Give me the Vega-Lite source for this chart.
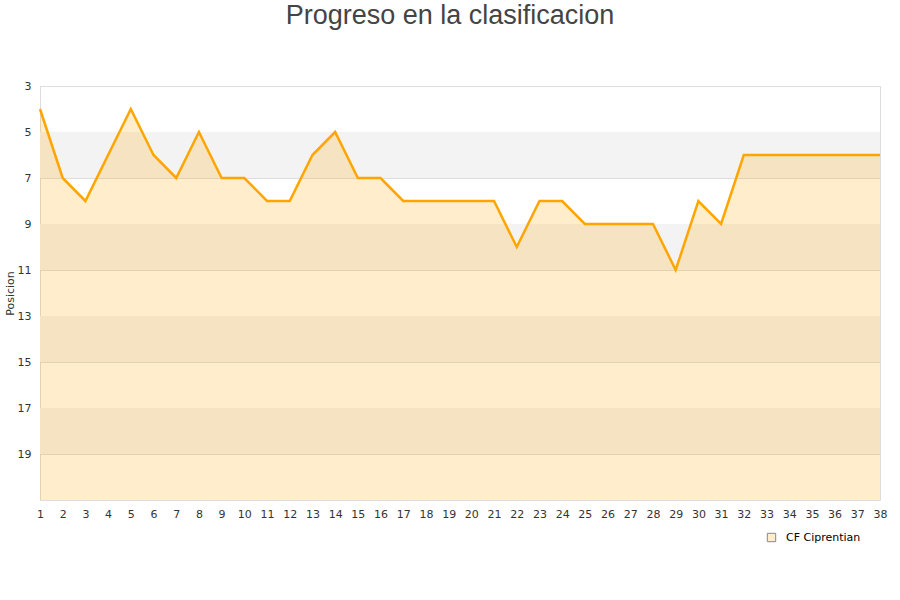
{
  "$schema": "https://vega.github.io/schema/vega-lite/v6.json",
  "width": 840,
  "height": 414,
  "autosize": {"type": "none"},
  "padding": {"left": 40, "top": 86, "right": 20, "bottom": 100},
  "background": "white",
  "config": {
    "font": "Liberation Sans",
    "view": {"stroke": "#dddddd"},
    "axis": {"labelFont": "DejaVu Sans", "labelFontSize": 11, "labelColor": "#333333", "titleFont": "DejaVu Sans", "titleFontSize": 11, "titleFontWeight": "normal", "titleColor": "#333333", "labelOverlap": false},
    "axisX": {"labelOverlap": false, "labelFlush": false}
  },
  "title": {"text": "Progreso en la clasificacion", "fontSize": 27, "font": "Liberation Sans", "fontWeight": "normal", "color": "#444444", "anchor": "middle", "frame": "group", "offset": 50, "dx": -10},
  "layer": [
    {
      "data": {"values": [
        {"desde": 5, "hasta": 7},
        {"desde": 9, "hasta": 11},
        {"desde": 13, "hasta": 15},
        {"desde": 17, "hasta": 19}
      ]},
      "mark": {"type": "rect", "color": "#f3f3f3"},
      "encoding": {
        "y": {"field": "desde", "type": "quantitative", "scale": {"domain": [3, 21], "reverse": true, "nice": false, "zero": false}},
        "y2": {"field": "hasta"}
      }
    },
    {
      "data": {"name": "jornadas", "values": [
        {"jornada": 1, "posicion": 4, "equipo": "CF Ciprentian"},
        {"jornada": 2, "posicion": 7, "equipo": "CF Ciprentian"},
        {"jornada": 3, "posicion": 8, "equipo": "CF Ciprentian"},
        {"jornada": 4, "posicion": 6, "equipo": "CF Ciprentian"},
        {"jornada": 5, "posicion": 4, "equipo": "CF Ciprentian"},
        {"jornada": 6, "posicion": 6, "equipo": "CF Ciprentian"},
        {"jornada": 7, "posicion": 7, "equipo": "CF Ciprentian"},
        {"jornada": 8, "posicion": 5, "equipo": "CF Ciprentian"},
        {"jornada": 9, "posicion": 7, "equipo": "CF Ciprentian"},
        {"jornada": 10, "posicion": 7, "equipo": "CF Ciprentian"},
        {"jornada": 11, "posicion": 8, "equipo": "CF Ciprentian"},
        {"jornada": 12, "posicion": 8, "equipo": "CF Ciprentian"},
        {"jornada": 13, "posicion": 6, "equipo": "CF Ciprentian"},
        {"jornada": 14, "posicion": 5, "equipo": "CF Ciprentian"},
        {"jornada": 15, "posicion": 7, "equipo": "CF Ciprentian"},
        {"jornada": 16, "posicion": 7, "equipo": "CF Ciprentian"},
        {"jornada": 17, "posicion": 8, "equipo": "CF Ciprentian"},
        {"jornada": 18, "posicion": 8, "equipo": "CF Ciprentian"},
        {"jornada": 19, "posicion": 8, "equipo": "CF Ciprentian"},
        {"jornada": 20, "posicion": 8, "equipo": "CF Ciprentian"},
        {"jornada": 21, "posicion": 8, "equipo": "CF Ciprentian"},
        {"jornada": 22, "posicion": 10, "equipo": "CF Ciprentian"},
        {"jornada": 23, "posicion": 8, "equipo": "CF Ciprentian"},
        {"jornada": 24, "posicion": 8, "equipo": "CF Ciprentian"},
        {"jornada": 25, "posicion": 9, "equipo": "CF Ciprentian"},
        {"jornada": 26, "posicion": 9, "equipo": "CF Ciprentian"},
        {"jornada": 27, "posicion": 9, "equipo": "CF Ciprentian"},
        {"jornada": 28, "posicion": 9, "equipo": "CF Ciprentian"},
        {"jornada": 29, "posicion": 11, "equipo": "CF Ciprentian"},
        {"jornada": 30, "posicion": 8, "equipo": "CF Ciprentian"},
        {"jornada": 31, "posicion": 9, "equipo": "CF Ciprentian"},
        {"jornada": 32, "posicion": 6, "equipo": "CF Ciprentian"},
        {"jornada": 33, "posicion": 6, "equipo": "CF Ciprentian"},
        {"jornada": 34, "posicion": 6, "equipo": "CF Ciprentian"},
        {"jornada": 35, "posicion": 6, "equipo": "CF Ciprentian"},
        {"jornada": 36, "posicion": 6, "equipo": "CF Ciprentian"},
        {"jornada": 37, "posicion": 6, "equipo": "CF Ciprentian"},
        {"jornada": 38, "posicion": 6, "equipo": "CF Ciprentian"}
      ]},
      "layer": [
        {
          "mark": {"type": "area", "color": "#ffa500", "fillOpacity": 0.2},
          "encoding": {
            "x": {"field": "jornada", "type": "quantitative", "scale": {"domain": [1, 38], "nice": false, "zero": false},
              "axis": {"title": null, "grid": false, "ticks": false, "domain": false, "labelPadding": 8, "labelOverlap": false, "labelFlush": false, "tickCount": 40,
                "values": [1,2,3,4,5,6,7,8,9,10,11,12,13,14,15,16,17,18,19,20,21,22,23,24,25,26,27,28,29,30,31,32,33,34,35,36,37,38]}},
            "y": {"field": "posicion", "type": "quantitative", "scale": {"domain": [3, 21], "reverse": true, "nice": false, "zero": false},
              "axis": {"title": "Posicion", "titlePadding": 2, "values": [3,5,7,9,11,13,15,17,19], "tickCount": 10, "grid": true, "gridColor": "#dddddd", "ticks": false, "domain": true, "domainColor": "#dddddd", "labelPadding": 9, "labelOverlap": false}},
            "y2": {"datum": 21}
          }
        },
        {
          "mark": {"type": "line", "color": "#ffa500", "strokeWidth": 2.5},
          "encoding": {
            "x": {"field": "jornada", "type": "quantitative"},
            "y": {"field": "posicion", "type": "quantitative"}
          }
        },
        {
          "transform": [{"filter": "false"}],
          "mark": {"type": "square", "filled": true},
          "encoding": {
            "x": {"field": "jornada", "type": "quantitative"},
            "y": {"field": "posicion", "type": "quantitative"},
            "color": {"field": "equipo", "type": "nominal", "scale": {"domain": ["CF Ciprentian"], "range": ["#ffedcc"]},
              "legend": {"title": null, "orient": "none", "legendX": 726, "legendY": 446, "symbolType": "square", "symbolSize": 70, "symbolStrokeColor": "#888888", "symbolStrokeWidth": 1, "symbolOpacity": 1, "labelOffset": 9, "labelFont": "DejaVu Sans", "labelFontSize": 11, "labelColor": "#000000"}}
          }
        }
      ]
    }
  ]
}
